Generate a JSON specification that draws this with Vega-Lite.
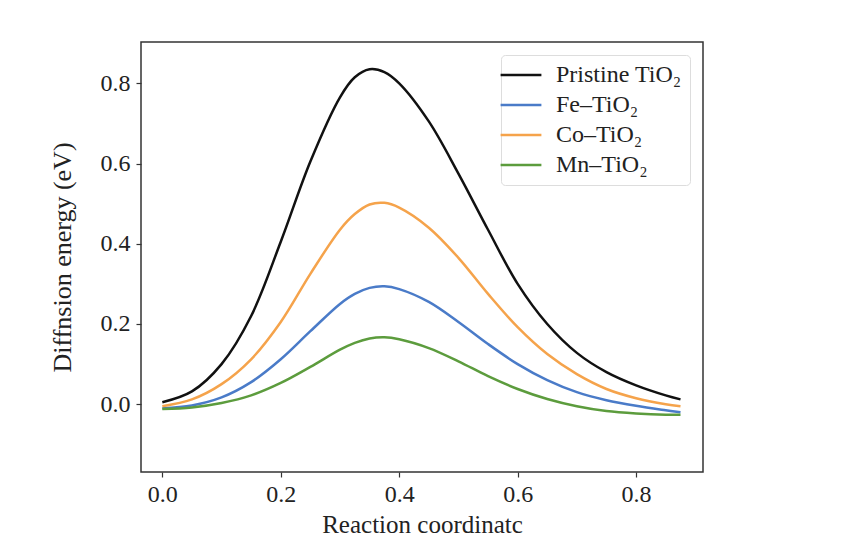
{
  "$schema": "https://vega.github.io/schema/vega-lite/v6.json",
  "width": 562,
  "height": 430,
  "autosize": {"type": "none"},
  "padding": {"left": 141, "top": 42, "right": 139, "bottom": 75},
  "background": "white",
  "config": {
    "font": "Liberation Serif",
    "view": {"stroke": "#333333", "strokeWidth": 1.5},
    "axis": {
      "domain": false,
      "grid": false,
      "tickColor": "#333333",
      "tickSize": 5,
      "tickWidth": 1.2,
      "labelFontSize": 24,
      "labelColor": "#222222",
      "labelFont": "Liberation Serif",
      "titleFont": "Liberation Serif",
      "titleFontSize": 25,
      "titleFontWeight": "normal",
      "titleColor": "#222222"
    },
    "legend": {
      "labelFont": "Liberation Serif",
      "labelFontSize": 24,
      "labelColor": "#222222"
    }
  },
  "data": {
    "values": [
      {"s": "Pristine TiO₂", "x": 0, "y": 0.005},
      {"s": "Pristine TiO₂", "x": 0.05, "y": 0.032},
      {"s": "Pristine TiO₂", "x": 0.1, "y": 0.1},
      {"s": "Pristine TiO₂", "x": 0.15, "y": 0.22},
      {"s": "Pristine TiO₂", "x": 0.2, "y": 0.405},
      {"s": "Pristine TiO₂", "x": 0.25, "y": 0.605},
      {"s": "Pristine TiO₂", "x": 0.3, "y": 0.765},
      {"s": "Pristine TiO₂", "x": 0.325, "y": 0.815},
      {"s": "Pristine TiO₂", "x": 0.35, "y": 0.835},
      {"s": "Pristine TiO₂", "x": 0.375, "y": 0.828},
      {"s": "Pristine TiO₂", "x": 0.4, "y": 0.8},
      {"s": "Pristine TiO₂", "x": 0.45, "y": 0.705},
      {"s": "Pristine TiO₂", "x": 0.5, "y": 0.575},
      {"s": "Pristine TiO₂", "x": 0.55, "y": 0.435},
      {"s": "Pristine TiO₂", "x": 0.6, "y": 0.3},
      {"s": "Pristine TiO₂", "x": 0.65, "y": 0.2},
      {"s": "Pristine TiO₂", "x": 0.7, "y": 0.128},
      {"s": "Pristine TiO₂", "x": 0.75, "y": 0.08},
      {"s": "Pristine TiO₂", "x": 0.8, "y": 0.047},
      {"s": "Pristine TiO₂", "x": 0.85, "y": 0.022},
      {"s": "Pristine TiO₂", "x": 0.875, "y": 0.012},
      {"s": "Fe–TiO₂", "x": 0, "y": -0.01},
      {"s": "Fe–TiO₂", "x": 0.05, "y": -0.003},
      {"s": "Fe–TiO₂", "x": 0.1, "y": 0.017},
      {"s": "Fe–TiO₂", "x": 0.15, "y": 0.055},
      {"s": "Fe–TiO₂", "x": 0.2, "y": 0.112},
      {"s": "Fe–TiO₂", "x": 0.25, "y": 0.182},
      {"s": "Fe–TiO₂", "x": 0.3, "y": 0.25},
      {"s": "Fe–TiO₂", "x": 0.325, "y": 0.275},
      {"s": "Fe–TiO₂", "x": 0.35, "y": 0.29},
      {"s": "Fe–TiO₂", "x": 0.375, "y": 0.294},
      {"s": "Fe–TiO₂", "x": 0.4, "y": 0.287},
      {"s": "Fe–TiO₂", "x": 0.45, "y": 0.255},
      {"s": "Fe–TiO₂", "x": 0.5, "y": 0.205},
      {"s": "Fe–TiO₂", "x": 0.55, "y": 0.15},
      {"s": "Fe–TiO₂", "x": 0.6, "y": 0.1},
      {"s": "Fe–TiO₂", "x": 0.65, "y": 0.06},
      {"s": "Fe–TiO₂", "x": 0.7, "y": 0.03},
      {"s": "Fe–TiO₂", "x": 0.75, "y": 0.01},
      {"s": "Fe–TiO₂", "x": 0.8, "y": -0.004},
      {"s": "Fe–TiO₂", "x": 0.85, "y": -0.015},
      {"s": "Fe–TiO₂", "x": 0.875, "y": -0.02},
      {"s": "Co–TiO₂", "x": 0, "y": -0.005},
      {"s": "Co–TiO₂", "x": 0.05, "y": 0.012},
      {"s": "Co–TiO₂", "x": 0.1, "y": 0.05},
      {"s": "Co–TiO₂", "x": 0.15, "y": 0.112},
      {"s": "Co–TiO₂", "x": 0.2, "y": 0.205},
      {"s": "Co–TiO₂", "x": 0.25, "y": 0.325},
      {"s": "Co–TiO₂", "x": 0.3, "y": 0.435},
      {"s": "Co–TiO₂", "x": 0.325, "y": 0.474},
      {"s": "Co–TiO₂", "x": 0.35, "y": 0.498},
      {"s": "Co–TiO₂", "x": 0.375, "y": 0.502},
      {"s": "Co–TiO₂", "x": 0.4, "y": 0.49},
      {"s": "Co–TiO₂", "x": 0.45, "y": 0.44},
      {"s": "Co–TiO₂", "x": 0.5, "y": 0.365},
      {"s": "Co–TiO₂", "x": 0.55, "y": 0.275},
      {"s": "Co–TiO₂", "x": 0.6, "y": 0.192},
      {"s": "Co–TiO₂", "x": 0.65, "y": 0.125},
      {"s": "Co–TiO₂", "x": 0.7, "y": 0.075},
      {"s": "Co–TiO₂", "x": 0.75, "y": 0.038},
      {"s": "Co–TiO₂", "x": 0.8, "y": 0.015},
      {"s": "Co–TiO₂", "x": 0.85, "y": 0.0},
      {"s": "Co–TiO₂", "x": 0.875, "y": -0.005},
      {"s": "Mn–TiO₂", "x": 0, "y": -0.012},
      {"s": "Mn–TiO₂", "x": 0.05, "y": -0.008},
      {"s": "Mn–TiO₂", "x": 0.1, "y": 0.003},
      {"s": "Mn–TiO₂", "x": 0.15, "y": 0.022},
      {"s": "Mn–TiO₂", "x": 0.2, "y": 0.053},
      {"s": "Mn–TiO₂", "x": 0.25, "y": 0.093},
      {"s": "Mn–TiO₂", "x": 0.3, "y": 0.136},
      {"s": "Mn–TiO₂", "x": 0.325, "y": 0.153},
      {"s": "Mn–TiO₂", "x": 0.35, "y": 0.164},
      {"s": "Mn–TiO₂", "x": 0.375, "y": 0.167},
      {"s": "Mn–TiO₂", "x": 0.4, "y": 0.162},
      {"s": "Mn–TiO₂", "x": 0.45, "y": 0.14},
      {"s": "Mn–TiO₂", "x": 0.5, "y": 0.107},
      {"s": "Mn–TiO₂", "x": 0.55, "y": 0.07},
      {"s": "Mn–TiO₂", "x": 0.6, "y": 0.038},
      {"s": "Mn–TiO₂", "x": 0.65, "y": 0.013},
      {"s": "Mn–TiO₂", "x": 0.7, "y": -0.005},
      {"s": "Mn–TiO₂", "x": 0.75, "y": -0.017},
      {"s": "Mn–TiO₂", "x": 0.8, "y": -0.023},
      {"s": "Mn–TiO₂", "x": 0.85, "y": -0.026},
      {"s": "Mn–TiO₂", "x": 0.875, "y": -0.026}
    ]
  },
  "mark": {"type": "line", "strokeWidth": 2.5, "interpolate": "catmull-rom"},
  "encoding": {
    "x": {
      "field": "x",
      "type": "quantitative",
      "scale": {"domain": [-0.036, 0.913], "nice": false, "zero": false},
      "axis": {
        "values": [0, 0.2, 0.4, 0.6, 0.8],
        "format": ".1f",
        "title": "Reaction coordinatc",
        "labelPadding": 5,
        "titlePadding": 6
      }
    },
    "y": {
      "field": "y",
      "type": "quantitative",
      "scale": {"domain": [-0.169, 0.903], "nice": false, "zero": false},
      "axis": {
        "values": [0, 0.2, 0.4, 0.6, 0.8],
        "format": ".1f",
        "title": "Diffnsion energy (eV)",
        "titleFontSize": 26,
        "labelPadding": 6,
        "titlePadding": 25
      }
    },
    "color": {
      "field": "s",
      "type": "nominal",
      "sort": null,
      "scale": {
        "domain": ["Pristine TiO₂", "Fe–TiO₂", "Co–TiO₂", "Mn–TiO₂"],
        "range": ["#111111", "#4A7BC8", "#F5A34B", "#5C9C3D"]
      },
      "legend": {
        "title": null,
        "orient": "top-right",
        "offset": 13,
        "symbolType": "M-3.4,0H3.4",
        "symbolSize": 144,
        "symbolStrokeWidth": 2.5,
        "labelOffset": 23,
        "rowPadding": 6,
        "padding": 8,
        "strokeColor": "#dddddd",
        "fillColor": "white",
        "cornerRadius": 4
      }
    }
  }
}
